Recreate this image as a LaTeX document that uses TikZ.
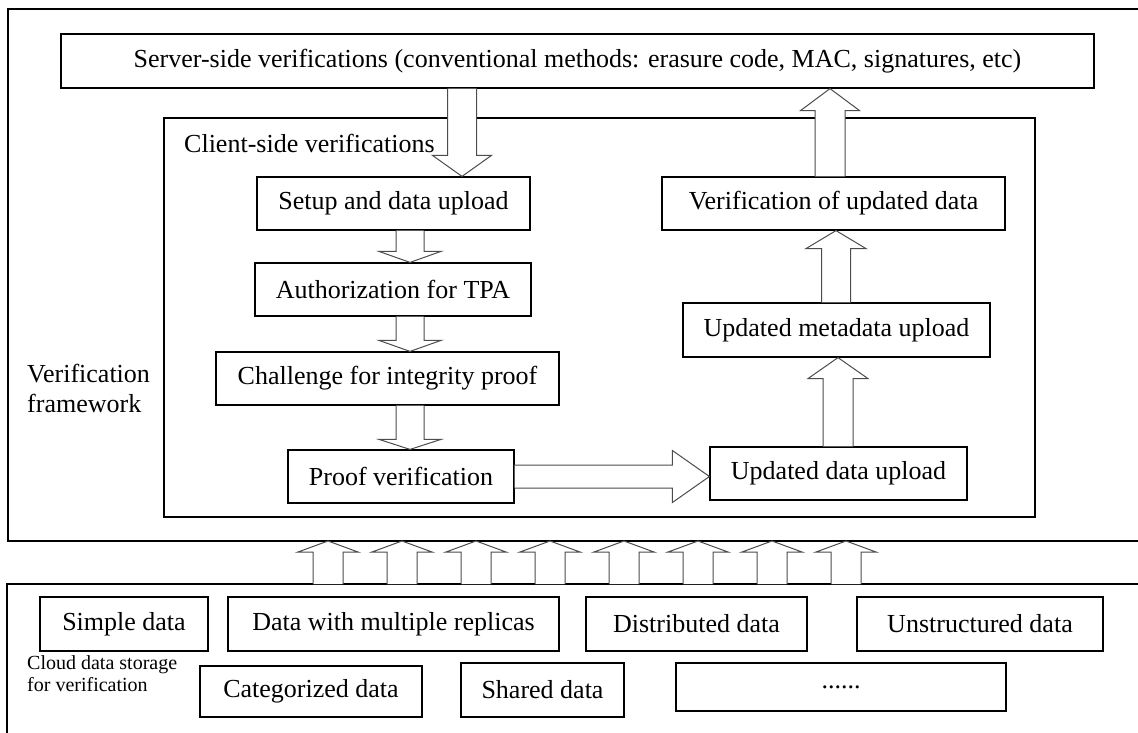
\documentclass[tikz,border=0pt]{standalone}
\usepackage{fontspec}
\setmainfont{Liberation Serif}
\usepackage{tikz}
\usetikzlibrary{calc, positioning}

% hollow block arrow: tail, tip, shaft half width, head half width, head length
\newcommand{\hollowarrow}[5]{%
    \coordinate (hb) at ($(#2)!#5!(#1)$);
    \draw[hollow] ($(#1)!#3!90:(#2)$) -- ($(hb)!#3!90:(#2)$) -- ($(hb)!#4!90:(#2)$) -- (#2)
        -- ($(hb)!#4!-90:(#2)$) -- ($(hb)!#3!-90:(#2)$) -- ($(#1)!#3!-90:(#2)$);
}

\begin{document}
\begin{tikzpicture}[x=1pt, y=-1pt,
    every node/.style={font=\fontsize{26}{30}\selectfont},
    box/.style={draw, line width=1.2pt, minimum height=53pt, inner sep=0pt},
    frame/.style={line width=1.2pt},
    hollow/.style={draw=black!70, line width=1pt, fill=white}]
    \useasboundingbox (0,0) rectangle (1138,733);
    % Outer frames
    \draw[frame] (1140,9) -- (8,9) -- (8,541) -- (1140,541);
    \draw[frame] (1140,584) -- (7,584) -- (7,740);
    \coordinate (workbot) at (8,541);
    \coordinate (storetop) at (7,584);
    \node[anchor=west, align=left, inner sep=0pt] (framework) at (27,388) {Verification\\framework};
    % Server side
    \node[box, minimum width=1033pt, minimum height=54pt] (server) at (577.5,61) {Server-side verifications (conventional methods: erasure code, MAC, signatures, etc)};
    % Client side
    \node[box, minimum width=871pt, minimum height=399pt] (client) at (599.5,317.5) {};
    \node[anchor=west, inner sep=0pt] (clientlbl) at (184,143) {Client-side verifications};
    \node[box, minimum width=273pt] (setup) at (393.5,203.5) {Setup and data upload};
    \node[box, minimum width=276pt] (auth) at (393,289.5) {Authorization for TPA};
    \node[box, minimum width=343pt] (challenge) at (387.5,378.5) {Challenge for integrity proof};
    \node[box, minimum width=226pt] (proof) at (401,476.5) {Proof verification};
    \node[box, minimum width=257pt] (upddata) at (838.5,473.5) {Updated data upload};
    \node[box, minimum width=307pt, minimum height=54pt] (updmeta) at (836.5,330) {Updated metadata upload};
    \node[box, minimum width=343pt] (verupd) at (833.5,203.5) {Verification of updated data};
    % Cloud storage
    \node[anchor=west, align=left, inner sep=0pt, font=\fontsize{20}{22}\selectfont] (cloudlbl) at (27,674) {Cloud data storage\\for verification};
    \node[box, minimum width=168pt, minimum height=54pt] (simple) at (124,624) {Simple data};
    \node[box, minimum width=331pt, minimum height=54pt] (replicas) at (393.5,624) {Data with multiple replicas};
    \node[box, minimum width=221pt, minimum height=54pt] (distributed) at (696.5,624) {Distributed data};
    \node[box, minimum width=246pt, minimum height=54pt] (unstructured) at (980,624) {Unstructured data};
    \node[box, minimum width=222pt, minimum height=51pt] (categorized) at (311,691.5) {Categorized data};
    \node[box, minimum width=163pt, minimum height=54pt] (shared) at (542.5,690) {Shared data};
    \node[box, minimum width=330pt, minimum height=48pt] (more) at (841,687) {......};
    % Arrows
    \coordinate (ax1) at (462,0);
    \coordinate (ax2) at (410,0);
    \coordinate (ax3) at (838,0);
    \coordinate (ax4) at (836,0);
    \coordinate (ax5) at (830,0);
    \hollowarrow{server.south -| ax1}{setup.north -| ax1}{14.5pt}{29.5pt}{21pt}
    \hollowarrow{setup.south -| ax2}{auth.north -| ax2}{14pt}{31pt}{11pt}
    \hollowarrow{auth.south -| ax2}{challenge.north -| ax2}{14pt}{31pt}{11pt}
    \hollowarrow{challenge.south -| ax2}{proof.north -| ax2}{14pt}{31pt}{10pt}
    \hollowarrow{proof.east}{upddata.west |- proof.east}{11.5pt}{26pt}{37pt}
    \hollowarrow{upddata.north -| ax3}{updmeta.south -| ax3}{15pt}{30pt}{21pt}
    \hollowarrow{updmeta.north -| ax4}{verupd.south -| ax4}{14.5pt}{30pt}{18pt}
    \hollowarrow{verupd.north -| ax5}{server.south -| ax5}{15pt}{29.5pt}{22pt}
    \foreach \i in {0,...,7} {
        \coordinate (ux) at ({328+74*\i},0);
        \hollowarrow{storetop -| ux}{workbot -| ux}{15pt}{30pt}{11pt}
    }
\end{tikzpicture}
\end{document}
